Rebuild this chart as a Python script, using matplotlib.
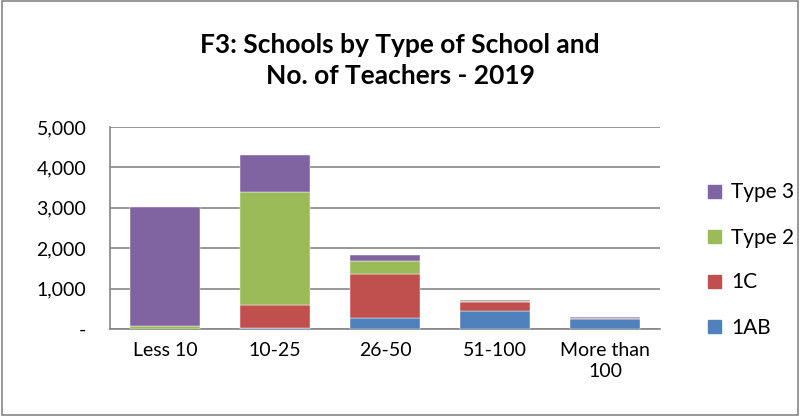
import matplotlib
matplotlib.use("Agg")
import matplotlib.pyplot as plt
import numpy as np
from matplotlib.patches import Patch, Rectangle

categories = ["Less 10", "10-25", "26-50", "51-100", "More than\n100"]
s_1ab = [10, 20, 263, 443, 255]
s_1c = [0, 563, 1110, 215, 15]
s_type2 = [65, 2807, 300, 30, 10]
s_type3 = [2955, 910, 155, 20, 8]
series_names = ["1AB", "1C", "Type 2", "Type 3"]
colors = ["#4F81BD", "#C0504D", "#9BBB59", "#8064A2"]
yticks = [0, 1000, 2000, 3000, 4000, 5000]
ytick_labels = ["-", "1,000", "2,000", "3,000", "4,000", "5,000"]

plt.rcParams['font.family'] = ['Lato', 'DejaVu Sans']

fig = plt.figure(figsize=(8, 4.16), dpi=100)
ax = fig.add_axes([0.1375, 0.209, 0.6875, 0.486])

x = np.arange(len(categories))
bottom = np.zeros(len(categories))
for vals, name, c in zip([s_1ab, s_1c, s_type2, s_type3], series_names, colors):
    ax.bar(x, vals, width=0.64, bottom=bottom, color=c, label=name, zorder=3,
           edgecolor='white', linewidth=0.3)
    bottom += np.array(vals)

ax.set_xlim(-0.5, len(categories) - 0.5)
ax.set_ylim(0, 5000)
ax.set_yticks(yticks)
ax.set_yticklabels(ytick_labels, fontsize=14)
ax.set_xticks(x)
ax.set_xticklabels(categories, fontsize=14, linespacing=1.3)
ax.yaxis.grid(True, color='#868686', linewidth=1.2, zorder=0)
for side in ['top', 'right']:
    ax.spines[side].set_visible(False)
ax.spines['left'].set_color('#868686')
ax.spines['bottom'].set_color('#868686')
ax.spines['left'].set_linewidth(1.2)
ax.spines['bottom'].set_linewidth(1.2)
ax.tick_params(axis='y', length=0, pad=17)
ax.tick_params(axis='x', length=0, pad=9)

fig.text(0.5, 0.855, "F3: Schools by Type of School and\nNo. of Teachers - 2019",
         ha='center', va='center', fontsize=19, fontweight='bold', linespacing=1.35)

handles = [Patch(color=c) for c in colors][::-1]
labels = series_names[::-1]
fig.legend(handles, labels, loc='center left', bbox_to_anchor=(0.862, 0.375),
           frameon=False, fontsize=15, handlelength=0.6, handleheight=0.6,
           labelspacing=1.2, handletextpad=0.5)

fig.add_artist(Rectangle((0.002, 0.003), 0.996, 0.994, transform=fig.transFigure,
                         fill=False, edgecolor='#868686', linewidth=1.2))

fig.savefig("out.png", dpi=100)
